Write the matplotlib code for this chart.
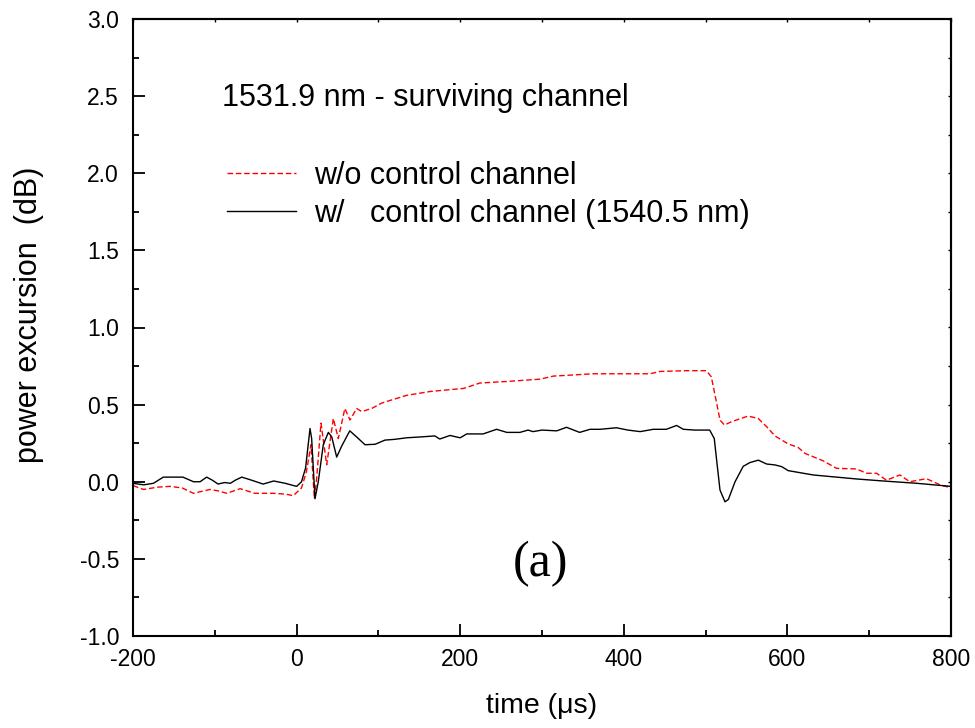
import matplotlib
matplotlib.use("Agg")
import matplotlib.pyplot as plt
from matplotlib.ticker import MultipleLocator

plt.rcParams['font.family'] = ['Liberation Sans', 'DejaVu Sans']
plt.rcParams['axes.unicode_minus'] = False

# w/ control channel (black solid)
t_w = [-200, -187, -175, -163, -150, -139, -126, -118, -110, -103, -96, -88, -81, -75, -67, -55,
       -41, -28, -14, 0, 6, 11, 16.4, 18.4, 22.5, 26.5, 32.6, 38.8, 43, 49, 55, 65, 73.5, 83.6,
       96, 108, 120, 134.5, 150, 169, 175, 187.5, 200, 208, 228, 244.5, 257, 273, 283, 289, 300,
       318, 330, 346, 358.7, 371, 391, 405, 420, 436, 452, 464.6, 472.7, 487, 505, 510.6, 513.5,
       517.6, 523.7, 527.8, 536, 546, 554, 564.4, 574.6, 584.8, 593, 601, 613, 631.5, 660, 684.5,
       717, 758, 800]
p_w = [-0.01, -0.02, -0.01, 0.03, 0.03, 0.03, 0.0, 0.0, 0.03, 0.01, -0.015, -0.005, -0.01, 0.01,
       0.03, 0.01, -0.015, 0.005, -0.01, -0.03, 0.0, 0.09, 0.345, 0.28, -0.11, 0.0, 0.24, 0.32,
       0.29, 0.16, 0.23, 0.33, 0.29, 0.24, 0.243, 0.27, 0.275, 0.285, 0.29, 0.297, 0.277, 0.30,
       0.285, 0.31, 0.31, 0.34, 0.32, 0.32, 0.335, 0.325, 0.335, 0.33, 0.353, 0.32, 0.34, 0.34,
       0.35, 0.335, 0.325, 0.34, 0.34, 0.365, 0.34, 0.335, 0.335, 0.28, 0.14, -0.054, -0.13,
       -0.115, 0.0, 0.1, 0.124, 0.14, 0.115, 0.109, 0.098, 0.072, 0.061, 0.044, 0.03, 0.018,
       0.005, -0.01, -0.03]

# w/o control channel (red dashed)
t_wo = [-200, -187, -170, -155, -140, -126, -106, -95, -85.5, -69, -60, -51, -28.5, -14, -4, 6,
        12, 17.6, 21.7, 24.5, 29.8, 36.8, 44.9, 51, 59, 65.3, 73.5, 79.6, 91.8, 104, 116, 134.5,
        163, 204, 224, 256.7, 297.5, 314, 363, 432, 444, 476.6, 501, 507, 513.5, 517.6, 523, 532,
        552, 564.4, 574.6, 584.8, 601, 613, 621.5, 644, 660, 684.5, 696.7, 709, 721, 737.5,
        749.6, 770, 786.6, 800]
p_wo = [-0.025, -0.05, -0.035, -0.03, -0.04, -0.075, -0.05, -0.06, -0.075, -0.045, -0.06, -0.075,
        -0.075, -0.08, -0.09, -0.04, 0.065, 0.24, -0.11, 0.02, 0.38, 0.11, 0.41, 0.28, 0.475,
        0.40, 0.475, 0.455, 0.475, 0.51, 0.53, 0.56, 0.585, 0.605, 0.64, 0.65, 0.665, 0.685,
        0.70, 0.70, 0.715, 0.72, 0.72, 0.68, 0.51, 0.40, 0.368, 0.39, 0.426, 0.41, 0.357, 0.297,
        0.245, 0.223, 0.184, 0.135, 0.087, 0.083, 0.055, 0.055, 0.01, 0.044, 0.0, 0.02, -0.02,
        -0.04]

label_wo = "w/o control channel"
label_w = "w/   control channel (1540.5 nm)"

fig = plt.figure(figsize=(9.75, 7.28), dpi=100)
ax = fig.add_axes([133/975, 1-636/728, 818/975, 617/728])

ax.plot(t_wo, p_wo, color='red', lw=1.0, linestyle=(0, (4, 2)), label=label_wo)
ax.plot(t_w, p_w, color='black', lw=1.0, label=label_w)

ax.set_xlim(-200, 800)
ax.set_ylim(-1.0, 3.0)
ax.xaxis.set_major_locator(MultipleLocator(200))
ax.xaxis.set_minor_locator(MultipleLocator(100))
ax.yaxis.set_major_locator(MultipleLocator(0.5))
ax.yaxis.set_minor_locator(MultipleLocator(0.25))
ax.xaxis.set_major_formatter(plt.FuncFormatter(lambda v, p: f"{v:.0f}"))
ax.yaxis.set_major_formatter(plt.FuncFormatter(lambda v, p: f"{v:.1f}"))

for s in ax.spines.values():
    s.set_linewidth(1.5)

ax.tick_params(which='major', direction='in', length=8.5, width=1.3, labelsize=16.5)
ax.tick_params(which='minor', direction='in', length=4.5, width=1.3)
ax.tick_params(axis='x', which='major', pad=9)
ax.tick_params(axis='y', which='major', pad=10)

sx = ax.secondary_xaxis('top')
sx.xaxis.set_major_locator(MultipleLocator(200))
sx.xaxis.set_minor_locator(MultipleLocator(100))
sx.tick_params(which='both', direction='in', length=2.5, width=1.0, labeltop=False)
sy = ax.secondary_yaxis('right')
sy.yaxis.set_major_locator(MultipleLocator(0.5))
sy.yaxis.set_minor_locator(MultipleLocator(0.25))
sy.tick_params(which='both', direction='in', length=2.5, width=1.0, labelright=False)
sx.spines['top'].set_linewidth(1.5)
sy.spines['right'].set_linewidth(1.5)

ax.set_xlabel("time (\u03bcs)", fontsize=20.5)
ax.xaxis.set_label_coords(0.5, -0.093)
ax.set_ylabel("power excursion  (dB)", fontsize=22)
ax.yaxis.set_label_coords(-0.109, 0.52)

ax.text(-91, 2.436, "1531.9 nm - surviving channel", fontsize=22, ha='left', va='baseline')
ax.text(298, -0.533, "(a)", fontsize=36, family=['Liberation Serif', 'DejaVu Serif'],
        ha='center', va='center')

ax.legend(loc='upper left', bbox_to_anchor=((227-133)/818, (636-161)/617), frameon=False,
          fontsize=22, handlelength=2.25, handletextpad=0.6, labelspacing=0.25,
          borderpad=0, borderaxespad=0)

fig.savefig("out.png", dpi=100)
